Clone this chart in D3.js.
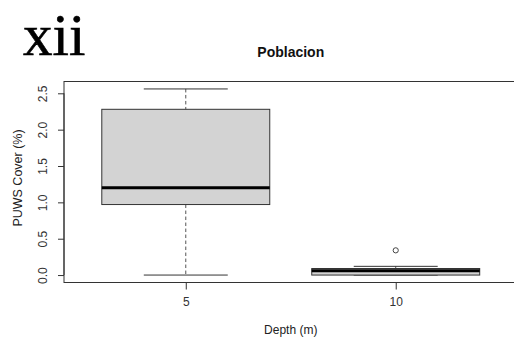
<!DOCTYPE html>
<html>
<head>
<meta charset="utf-8">
<script src="https://cdn.jsdelivr.net/npm/d3@7"></script>
<style>
  html, body { margin: 0; padding: 0; background: #fff; }
  svg { display: block; }
  text { font-family: "Liberation Sans", Arial, sans-serif; }
</style>
</head>
<body>
<script>
// Depth groups and their box statistics (PUWS cover, %)
const depths = ["5", "10"];
const whiskerLow = [0.0, 0.0];
const q1 = [0.97, 0.0];
const median = [1.2, 0.06];
const q3 = [2.28, 0.09];
const whiskerHigh = [2.56, 0.12];
const outliers = [[], [0.34]];
const yTicks = [0, 0.5, 1.0, 1.5, 2.0, 2.5];

const W = 514, H = 344;
const svg = d3.select("body").append("svg").attr("width", W).attr("height", H);

// Plot region (R-style 4% padding on both axes)
const plotLeft = 64, plotRight = 517.5, plotTop = 81.5, plotBottom = 282.5;
const yMin = 0, yMax = 2.56, pad = (yMax - yMin) * 0.04;
const x = d3.scaleLinear().domain([0.42, 2.58]).range([plotLeft, plotRight]);
const y = d3.scaleLinear().domain([yMin - pad, yMax + pad]).range([plotBottom, plotTop]);

const boxW = 0.8, capW = 0.4;

// Corner label
svg.append("text")
  .attr("x", 23).attr("y", 55)
  .style("font-family", "'Liberation Serif', 'Times New Roman', serif")
  .style("font-size", "59px")
  .attr("fill", "#000")
  .attr("stroke", "#000").attr("stroke-width", 0.6)
  .text("xii");

// Title
svg.append("text")
  .attr("x", (plotLeft + plotRight) / 2).attr("y", 57)
  .attr("text-anchor", "middle")
  .style("font-size", "14px").style("font-weight", "bold")
  .attr("fill", "#111")
  .text("Poblacion");

const groups = svg.append("g");
depths.forEach((d, i) => {
  const cx = i + 1;
  const g = groups.append("g");
  // whiskers (dashed)
  g.append("line")
    .attr("x1", x(cx)).attr("x2", x(cx))
    .attr("y1", y(whiskerHigh[i])).attr("y2", y(q3[i]))
    .attr("stroke", "#555").attr("stroke-dasharray", "3.5,2.5");
  g.append("line")
    .attr("x1", x(cx)).attr("x2", x(cx))
    .attr("y1", y(q1[i])).attr("y2", y(whiskerLow[i]))
    .attr("stroke", "#555").attr("stroke-dasharray", "3.5,2.5");
  // caps
  [whiskerLow[i], whiskerHigh[i]].forEach(v => {
    g.append("line")
      .attr("x1", x(cx - capW / 2)).attr("x2", x(cx + capW / 2))
      .attr("y1", y(v)).attr("y2", y(v))
      .attr("stroke", "#333");
  });
  // box
  g.append("rect")
    .attr("x", x(cx - boxW / 2)).attr("width", x(cx + boxW / 2) - x(cx - boxW / 2))
    .attr("y", y(q3[i])).attr("height", Math.max(y(q1[i]) - y(q3[i]), 0))
    .attr("fill", "#d3d3d3").attr("stroke", "#333");
  // median
  g.append("line")
    .attr("x1", x(cx - boxW / 2)).attr("x2", x(cx + boxW / 2))
    .attr("y1", y(median[i])).attr("y2", y(median[i]))
    .attr("stroke", "#000").attr("stroke-width", 3);
  // outliers
  outliers[i].forEach(v => {
    g.append("circle")
      .attr("cx", x(cx)).attr("cy", y(v)).attr("r", 2.6)
      .attr("fill", "none").attr("stroke", "#444");
  });
});

// Frame
svg.append("rect")
  .attr("x", plotLeft).attr("y", plotTop)
  .attr("width", plotRight - plotLeft).attr("height", plotBottom - plotTop)
  .attr("fill", "none").attr("stroke", "#333");

// Y axis
const yAxis = d3.axisLeft(y).tickValues(yTicks).tickSize(6).tickPadding(4)
  .tickFormat(d3.format(".1f"));
const yg = svg.append("g").attr("transform", `translate(${plotLeft},0)`).call(yAxis);
yg.select(".domain").attr("d", `M-0,${y(0)}V${y(2.5)}`).attr("stroke", "#333");
yg.selectAll(".tick line").attr("stroke", "#333");
yg.selectAll(".tick text")
  .style("font-size", "12px").attr("fill", "#333")
  .attr("text-anchor", "middle")
  .attr("transform", "rotate(-90)")
  .attr("x", 0).attr("dy", 0)
  .attr("y", -17);

// X axis
const xAxis = d3.axisBottom(x).tickValues([1, 2]).tickSize(7).tickPadding(8)
  .tickFormat((d, i) => depths[i]);
const xg = svg.append("g").attr("transform", `translate(0,${plotBottom})`).call(xAxis);
xg.select(".domain").remove();
xg.selectAll(".tick line").attr("stroke", "#333");
xg.selectAll(".tick text").style("font-size", "12px").attr("fill", "#333");

// Axis titles
svg.append("text")
  .attr("x", (plotLeft + plotRight) / 2).attr("y", 334)
  .attr("text-anchor", "middle")
  .style("font-size", "12px").attr("fill", "#222")
  .text("Depth (m)");
svg.append("text")
  .attr("transform", `translate(22,178) rotate(-90)`)
  .attr("text-anchor", "middle")
  .style("font-size", "12.5px").attr("fill", "#222")
  .text("PUWS Cover (%)");
</script>
</body>
</html>
